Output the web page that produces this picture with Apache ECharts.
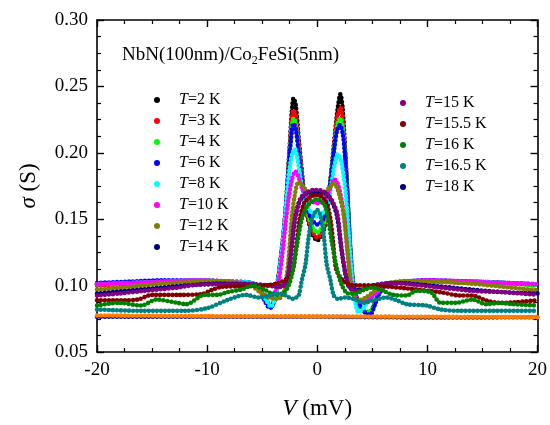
<!DOCTYPE html>
<html>
<head>
<meta charset="UTF-8">
<title>NbN/Co2FeSi conductance</title>
<script src="https://cdn.jsdelivr.net/npm/echarts@6/dist/echarts.min.js"></script>
<style>
  html, body { margin: 0; padding: 0; background: #fff; }
  #chart { width: 550px; height: 425px; }
</style>
</head>
<body>
<div id="chart"></div>
<script>
// sigma (S) vs V (mV)
const t2 = [[-20,0.101],[-17,0.102],[-14,0.103],[-11,0.104],[-8,0.103],[-6,0.102],[-5.3,0.099],[-4.7,0.090],[-4.2,0.084],[-3.9,0.089],[-3.6,0.103],[-3.3,0.122],[-3.0,0.145],[-2.75,0.172],[-2.5,0.205],[-2.3,0.232],[-2.15,0.241],[-1.95,0.236],[-1.7,0.212],[-1.4,0.186],[-1.1,0.163],[-0.6,0.142],[0,0.134],[0.6,0.142],[1.05,0.168],[1.5,0.205],[1.85,0.233],[2.1,0.244],[2.3,0.234],[2.5,0.207],[2.75,0.168],[3.0,0.128],[3.3,0.100],[3.8,0.086],[4.4,0.080],[4.9,0.081],[5.4,0.090],[6.0,0.099],[7,0.102],[10,0.103],[14,0.103],[17,0.102],[20,0.101]];
const t3 = [[-20,0.100],[-17,0.101],[-14,0.102],[-11,0.103],[-8,0.103],[-6,0.101],[-5.3,0.098],[-4.7,0.090],[-4.2,0.085],[-3.9,0.089],[-3.6,0.102],[-3.3,0.121],[-3.0,0.144],[-2.75,0.171],[-2.5,0.203],[-2.3,0.226],[-2.15,0.232],[-1.95,0.228],[-1.7,0.208],[-1.4,0.184],[-1.1,0.163],[-0.6,0.144],[0,0.136],[0.6,0.144],[1.05,0.168],[1.5,0.203],[1.85,0.228],[2.1,0.234],[2.3,0.226],[2.5,0.204],[2.75,0.167],[3.0,0.128],[3.3,0.100],[3.8,0.086],[4.4,0.080],[4.9,0.081],[5.4,0.090],[6.0,0.099],[7,0.102],[10,0.103],[14,0.102],[17,0.102],[20,0.100]];
const t4 = [[-20,0.101],[-17,0.102],[-14,0.103],[-11,0.104],[-8,0.103],[-6,0.102],[-5.3,0.098],[-4.7,0.090],[-4.2,0.084],[-3.9,0.089],[-3.6,0.102],[-3.3,0.121],[-3.0,0.144],[-2.75,0.170],[-2.5,0.200],[-2.3,0.221],[-2.15,0.226],[-1.95,0.222],[-1.7,0.204],[-1.4,0.182],[-1.1,0.164],[-0.6,0.147],[0,0.140],[0.6,0.147],[1.05,0.168],[1.5,0.201],[1.85,0.222],[2.1,0.226],[2.3,0.220],[2.5,0.202],[2.75,0.166],[3.0,0.127],[3.3,0.099],[3.8,0.085],[4.4,0.080],[4.9,0.081],[5.4,0.090],[6.0,0.099],[7,0.102],[10,0.103],[14,0.103],[17,0.102],[20,0.100]];
const t6 = [[-20,0.102],[-17,0.103],[-14,0.104],[-11,0.104],[-8,0.103],[-6,0.102],[-5.3,0.098],[-4.8,0.089],[-4.3,0.083],[-3.9,0.088],[-3.6,0.101],[-3.3,0.120],[-3.0,0.143],[-2.75,0.169],[-2.5,0.199],[-2.3,0.217],[-2.15,0.222],[-1.95,0.218],[-1.7,0.201],[-1.4,0.181],[-1.1,0.165],[-0.6,0.151],[0,0.146],[0.6,0.151],[1.05,0.169],[1.5,0.200],[1.8,0.217],[2.05,0.221],[2.3,0.215],[2.5,0.200],[2.75,0.165],[3.0,0.126],[3.3,0.098],[3.8,0.086],[4.3,0.080],[4.8,0.078],[5.2,0.085],[5.6,0.094],[6.2,0.100],[7,0.102],[10,0.104],[14,0.103],[17,0.102],[20,0.101]];
const t8 = [[-20,0.101],[-17,0.102],[-14,0.103],[-11,0.104],[-8,0.103],[-6,0.102],[-5.3,0.098],[-4.7,0.090],[-4.2,0.084],[-3.9,0.089],[-3.6,0.101],[-3.3,0.120],[-3.0,0.143],[-2.75,0.168],[-2.5,0.189],[-2.25,0.200],[-2.05,0.203],[-1.85,0.198],[-1.6,0.185],[-1.3,0.171],[-0.8,0.158],[0,0.152],[0.8,0.158],[1.2,0.172],[1.55,0.190],[1.85,0.199],[2.1,0.196],[2.35,0.185],[2.6,0.168],[2.85,0.140],[3.1,0.112],[3.4,0.090],[3.75,0.080],[4.2,0.083],[4.8,0.091],[5.5,0.099],[6.5,0.102],[10,0.103],[14,0.103],[17,0.102],[20,0.101]];
const t10 = [[-20,0.101],[-17,0.102],[-14,0.103],[-11,0.104],[-8,0.103],[-6,0.101],[-5.2,0.096],[-4.5,0.092],[-3.9,0.094],[-3.5,0.104],[-3.2,0.122],[-2.9,0.145],[-2.6,0.166],[-2.3,0.180],[-2.0,0.186],[-1.75,0.183],[-1.4,0.174],[-0.9,0.166],[0,0.162],[0.8,0.166],[1.2,0.174],[1.55,0.180],[1.85,0.177],[2.2,0.165],[2.5,0.148],[2.8,0.122],[3.05,0.103],[3.35,0.092],[4.0,0.088],[4.7,0.090],[5.3,0.094],[6.0,0.099],[7,0.102],[10,0.104],[14,0.103],[17,0.102],[20,0.101]];
const t12 = [[-20,0.097],[-17,0.099],[-14,0.1015],[-11,0.103],[-9,0.1035],[-7,0.102],[-6,0.100],[-5.2,0.095],[-4.4,0.091],[-3.6,0.090],[-3.1,0.093],[-2.8,0.106],[-2.6,0.121],[-2.3,0.152],[-2.0,0.170],[-1.7,0.178],[-1.4,0.176],[-0.8,0.170],[0,0.168],[0.7,0.170],[1.1,0.174],[1.5,0.177],[1.9,0.171],[2.4,0.153],[2.85,0.116],[3.2,0.094],[3.7,0.089],[4.4,0.091],[5.2,0.096],[6.2,0.101],[8,0.1035],[11,0.103],[14,0.1015],[17,0.099],[20,0.0965]];
const t14 = [[-20,0.094],[-16,0.097],[-12,0.100],[-9,0.1015],[-6,0.101],[-4,0.100],[-3.2,0.0995],[-2.8,0.102],[-2.5,0.115],[-2.2,0.138],[-1.9,0.155],[-1.5,0.165],[-0.8,0.170],[0,0.1705],[0.8,0.169],[1.4,0.162],[1.8,0.152],[2.2,0.127],[2.6,0.107],[3.0,0.098],[4,0.097],[5,0.100],[7,0.102],[11,0.0995],[14,0.097],[17,0.095],[20,0.094]];
const t15 = [[-20,0.0925],[-18,0.094],[-15.7,0.096],[-12.7,0.0985],[-11,0.1005],[-8,0.101],[-6,0.101],[-4.5,0.100],[-3.4,0.099],[-2.9,0.101],[-2.6,0.110],[-2.35,0.128],[-2.1,0.147],[-1.8,0.159],[-1.5,0.166],[-1.0,0.170],[-0.3,0.172],[0.4,0.1715],[1.0,0.168],[1.4,0.163],[1.8,0.155],[2.0,0.143],[2.2,0.128],[2.6,0.108],[3.0,0.098],[3.9,0.096],[5,0.100],[6.9,0.102],[9,0.1005],[11.2,0.0985],[14.1,0.096],[17,0.095],[20,0.093]];
const t155 = [[-20,0.089],[-17.5,0.089],[-16.3,0.0895],[-15,0.093],[-12.5,0.093],[-10.5,0.0935],[-9.5,0.097],[-8.7,0.099],[-6.5,0.0995],[-4.8,0.100],[-3.5,0.102],[-2.6,0.106],[-2.2,0.112],[-1.9,0.130],[-1.6,0.150],[-1.2,0.162],[-0.6,0.167],[0,0.168],[0.5,0.1665],[0.9,0.161],[1.2,0.150],[1.45,0.132],[1.7,0.113],[2.2,0.105],[3.0,0.1005],[5.1,0.100],[8,0.098],[11.2,0.095],[13,0.0925],[14.1,0.0925],[15.3,0.089],[16.5,0.087],[18,0.0875],[20,0.089]];
const t16 = [[-20,0.085],[-18,0.087],[-16,0.085],[-14.6,0.0895],[-12.7,0.087],[-11.9,0.086],[-10.2,0.093],[-9,0.093],[-8.2,0.095],[-6.9,0.097],[-5.9,0.100],[-4.8,0.097],[-3.8,0.093],[-3.0,0.095],[-2.6,0.100],[-2.3,0.108],[-1.85,0.130],[-1.4,0.150],[-0.9,0.160],[0,0.165],[0.7,0.160],[1.0,0.150],[1.3,0.134],[1.7,0.116],[2.2,0.101],[2.8,0.094],[3.5,0.094],[4.2,0.097],[5.1,0.0985],[6.0,0.096],[6.9,0.093],[8.1,0.0925],[9,0.096],[10.3,0.095],[11.2,0.087],[12.6,0.087],[14.1,0.0895],[15.3,0.086],[16.6,0.087],[17.7,0.086],[20,0.085]];
const t165 = [[-20,0.082],[-16,0.081],[-12,0.081],[-10,0.083],[-8.2,0.089],[-6.5,0.093],[-5.3,0.091],[-4.5,0.092],[-3.9,0.094],[-3.0,0.093],[-2.2,0.090],[-1.9,0.091],[-1.67,0.093],[-1.4,0.104],[-1.07,0.116],[-0.77,0.137],[-0.4,0.152],[0,0.157],[0.35,0.151],[0.6,0.137],[0.86,0.116],[1.2,0.104],[1.5,0.0925],[1.9,0.090],[2.5,0.091],[3.3,0.090],[4.2,0.087],[5.1,0.089],[6.3,0.091],[7.2,0.089],[8.1,0.086],[9.9,0.085],[11.2,0.082],[13,0.081],[16,0.081],[20,0.081]];
const t18 = [[-20,0.0765],[-10,0.0765],[0,0.0765],[10,0.076],[20,0.0762]];
const tNormal = [[-20,0.0775],[-10,0.077],[0,0.0768],[10,0.0765],[20,0.0762]];

const names = ['T=2 K','T=3 K','T=4 K','T=6 K','T=8 K','T=10 K','T=12 K','T=14 K',
               'T=15 K','T=15.5 K','T=16 K','T=16.5 K','T=18 K','normal'];
const curves = [t2, t3, t4, t6, t8, t10, t12, t14, t15, t155, t16, t165, t18, tNormal];
const colors = ['#000000','#ff0000','#00ff00','#0000ff','#00ffff','#ff00ff','#808000','#000080',
                '#800080','#800000','#008000','#008080','#000080','#ff8000'];

const xTicks = { min: -20, max: 20, step: 10 };
const yTicks = { min: 0.05, max: 0.30, step: 0.05 };

const FONT = 'Liberation Serif';

const chart = echarts.init(document.getElementById('chart'));

function axisBase(show) {
    return {
        axisLine: { show: true, onZero: false, lineStyle: { color: '#000', width: 1.6 } },
        axisTick: { show: true, inside: true, length: 7, lineStyle: { color: '#000', width: 1.4 } },
        minorTick: { show: true, splitNumber: 4, length: 4, lineStyle: { color: '#000', width: 1.2 } },
        splitLine: { show: false },
        axisLabel: { show: show, color: '#000', fontFamily: FONT, fontSize: 19, margin: 9 }
    };
}

const legendRich = {
    sp: { width: 14, lineHeight: 16 },
    it: { fontStyle: 'italic', fontFamily: FONT, fontSize: 16, color: '#000', lineHeight: 16 },
    n: { fontFamily: FONT, fontSize: 16, color: '#000', lineHeight: 16 }
};
const legendFmt = function (name) {
    return '{sp|}{it|T}{n|' + name.slice(1) + '}';
};

chart.setOption({
    animation: false,
    backgroundColor: '#fff',
    title: {
        text: '{a|NbN(100nm)/Co}{b|2}{a|FeSi(5nm)}',
        left: 122,
        top: 43,
        padding: 0,
        textStyle: {
            fontWeight: 'normal',
            rich: {
                a: { fontFamily: FONT, fontSize: 19, fontWeight: 'normal', color: '#000', lineHeight: 24 },
                b: { fontFamily: FONT, fontSize: 12, fontWeight: 'normal', color: '#000', lineHeight: 12, verticalAlign: 'bottom' }
            }
        }
    },
    legend: [
        {
            data: names.slice(0, 8),
            orient: 'vertical',
            left: 154, top: 92, padding: 0,
            itemGap: 5, itemWidth: 6, itemHeight: 6, icon: 'circle',
            formatter: legendFmt,
            textStyle: { rich: legendRich }
        },
        {
            data: names.slice(8, 13),
            orient: 'vertical',
            left: 400, top: 95, padding: 0,
            itemGap: 5, itemWidth: 6, itemHeight: 6, icon: 'circle',
            formatter: legendFmt,
            textStyle: { rich: legendRich }
        }
    ],
    grid: { left: 97, right: 10, top: 20, bottom: 70 },
    xAxis: [
        Object.assign(axisBase(true), {
            type: 'value', position: 'bottom',
            min: xTicks.min, max: xTicks.max, interval: xTicks.step,
            name: '{i|V} (mV)',
            nameLocation: 'middle', nameGap: 45,
            nameTextStyle: {
                rich: {
                    i: { fontFamily: FONT, fontSize: 23, fontStyle: 'italic', color: '#000' }
                },
                fontFamily: FONT, fontSize: 23, color: '#000'
            }
        }),
        Object.assign(axisBase(false), {
            type: 'value', position: 'top',
            min: xTicks.min, max: xTicks.max, interval: xTicks.step
        })
    ],
    yAxis: [
        Object.assign(axisBase(true), {
            type: 'value', position: 'left',
            min: yTicks.min, max: yTicks.max, interval: yTicks.step,
            axisLabel: { color: '#000', fontFamily: FONT, fontSize: 19, margin: 9,
                formatter: function (v) { return v.toFixed(2); } },
            name: '{i|σ} (S)',
            nameLocation: 'middle', nameGap: 57,
            nameTextStyle: {
                rich: {
                    i: { fontFamily: FONT, fontSize: 23, fontStyle: 'italic', color: '#000' }
                },
                fontFamily: FONT, fontSize: 23, color: '#000'
            }
        }),
        Object.assign(axisBase(false), {
            type: 'value', position: 'right',
            min: yTicks.min, max: yTicks.max, interval: yTicks.step
        })
    ],
    series: curves.map(function (d, i) {
        return {
            name: names[i],
            type: 'line',
            xAxisIndex: 0,
            yAxisIndex: 0,
            data: d,
            smooth: 0.3,
            showSymbol: false,
            itemStyle: { color: colors[i] },
            lineStyle: { color: colors[i], width: 4.6, type: [0, 4], cap: 'round' },
            z: 2 + i
        };
    })
});
</script>
</body>
</html>
